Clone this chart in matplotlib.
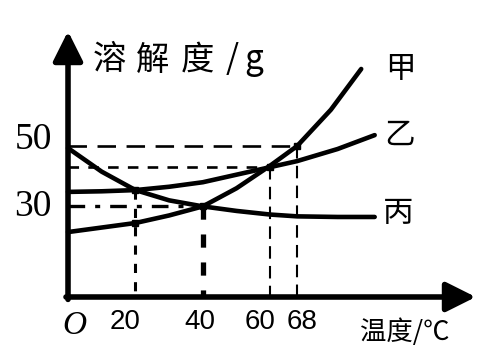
import matplotlib
matplotlib.use("Agg")
import matplotlib.pyplot as plt
import numpy as np

plt.rcParams['font.family'] = ['Noto Sans CJK SC', 'DejaVu Sans']

# solubility curves (temperature in C, solubility in g)
t_jia = [0, 10, 20, 30, 40, 50, 60, 68, 78, 87]
s_jia = [21.5, 23, 24.5, 27, 30, 36, 43.5, 50, 62, 75.5]

t_yi = [0, 10, 20, 30, 40, 50, 60, 68, 80, 91]
s_yi = [34.8, 35, 35.4, 36.5, 38, 40.5, 43, 45, 49, 53.6]

t_bing = [0, 10, 20, 30, 40, 50, 60, 68, 80, 91]
s_bing = [49.3, 41.5, 35.4, 32, 30, 28.5, 27.3, 26.7, 26.5, 26.5]

curve_names = ['甲', '乙', '丙']
x_ticks = [20, 40, 60, 68]
y_ticks = [50, 30]
y_title = ['溶', '解', '度', '/', 'g']

fig = plt.figure(figsize=(4.96, 3.5), dpi=100)
ax = fig.add_axes([0, 0, 1, 1])
ax.set_xlim(-20.18, 127.0)
ax.set_ylim(-17.55, 98.34)
ax.axis('off')

# curves
for tt, ss in [(t_jia, s_jia), (t_yi, s_yi), (t_bing, s_bing)]:
    ax.plot(tt, ss, color='black', lw=3.3, solid_capstyle='round',
            solid_joinstyle='round')

# helper dashed lines
ax.plot([0, 68], [50, 50], color='black', lw=1.9, dashes=(7, 4))
ax.plot([0, 60], [43, 43], color='black', lw=1.9, dashes=(4, 3.5))
ax.plot([0, 40], [30, 30], color='black', lw=2.4, dashes=(5, 3, 1.5, 3))
ax.plot([20, 20], [35.4, 0], color='black', lw=2.2, dashes=(3, 3))
ax.plot([40, 40], [30, 0], color='black', lw=3.8, dashes=(2.5, 2.8))
ax.plot([60, 60], [43, 0], color='black', lw=1.5, dashes=(6, 3.5))
ax.plot([68, 68], [50, 0], color='black', lw=1.5, dashes=(6, 3.5))

# intersection dots
ax.plot([20, 40, 60, 68, 20], [35.4, 30, 43, 50, 24.5], 'ks', ms=4.5)

# axes with arrows
arrow = dict(arrowstyle='-|>,head_length=0.9,head_width=0.45',
             color='black', lw=4, mutation_scale=20, shrinkA=0, shrinkB=0)
ax.annotate('', xy=(121, 0), xytext=(-0.6, 0), arrowprops=arrow)
ax.annotate('', xy=(0, 88), xytext=(0, -0.8), arrowprops=arrow)

# tick labels
x_shift = {20: -3, 40: -1, 60: -3, 68: 1.5}
for v in x_ticks:
    ax.text(v + x_shift[v], -8.4, str(v), ha='center', va='center',
            fontsize=20, family='Liberation Sans')
for v in y_ticks:
    ax.text(-10.4, v + 2 if v == 50 else v, str(v), ha='center', va='center',
            fontsize=27, family='Liberation Serif')
ax.text(1.8, -9.5, 'O', ha='center', va='center', fontsize=24,
        family='Liberation Serif', style='italic')

# axis titles, spread out like the original
for ch, px in zip(y_title, [109, 153, 197, 232, 254]):
    ax.text((px - 68) / 3.37, 78.5, ch, ha='center', va='center', fontsize=24)
ax.text(100, -11.6, '温度/℃', ha='center', va='center', fontsize=19)

# curve names
for name, t, s in zip(curve_names, [98.5, 98.5, 97.9], [75.2, 53.6, 27.8]):
    ax.text(t, s, name, ha='center', va='center', fontsize=22)

fig.savefig('out.png', dpi=100)
